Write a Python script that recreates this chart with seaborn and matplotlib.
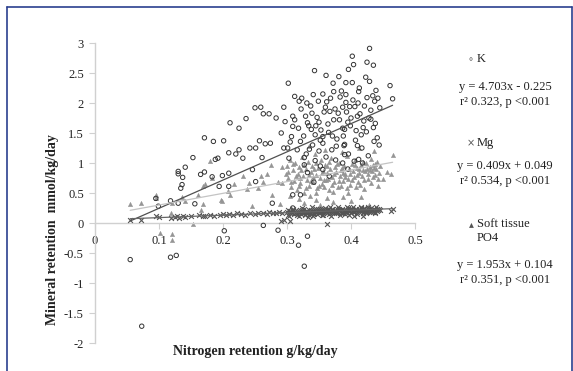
import matplotlib
matplotlib.use("Agg")
import matplotlib.pyplot as plt
import seaborn as sns
import pandas as pd
import numpy as np
from matplotlib.lines import Line2D

sns.set_theme(style="white")
plt.rcParams['font.family'] = ['Liberation Serif', 'DejaVu Serif']

# ---------------- data ----------------
k_points = [
    (0.429, 2.91), (0.402, 2.78), (0.425, 2.68), (0.435, 2.63), (0.404, 2.64), (0.396, 2.56),
    (0.343, 2.54), (0.361, 2.46), (0.381, 2.44), (0.423, 2.43), (0.429, 2.36), (0.372, 2.33),
    (0.392, 2.34), (0.402, 2.34), (0.302, 2.33), (0.461, 2.29), (0.373, 2.19), (0.412, 2.19),
    (0.439, 2.21), (0.341, 2.14), (0.356, 2.15), (0.392, 2.14), (0.312, 2.11), (0.323, 2.08),
    (0.425, 2.09), (0.442, 2.08), (0.465, 2.07), (0.319, 2.03), (0.331, 2.00), (0.349, 2.03),
    (0.392, 2.01), (0.411, 2.00), (0.437, 2.03), (0.250, 1.92), (0.259, 1.93), (0.295, 1.93),
    (0.360, 1.93), (0.387, 1.93), (0.398, 1.94), (0.406, 1.94), (0.272, 1.82), (0.263, 1.82),
    (0.283, 1.75), (0.236, 1.74), (0.309, 1.78), (0.329, 1.78), (0.367, 1.86), (0.380, 1.83),
    (0.400, 1.75), (0.428, 1.75), (0.431, 1.73), (0.297, 1.69), (0.332, 1.67), (0.350, 1.68),
    (0.373, 1.72), (0.225, 1.58), (0.211, 1.67), (0.309, 1.61), (0.318, 1.58), (0.338, 1.56),
    (0.387, 1.58), (0.390, 1.56), (0.408, 1.54), (0.419, 1.59), (0.435, 1.59), (0.171, 1.42),
    (0.185, 1.36), (0.201, 1.37), (0.291, 1.50), (0.307, 1.44), (0.344, 1.47), (0.356, 1.44),
    (0.416, 1.47), (0.257, 1.37), (0.266, 1.32), (0.274, 1.33), (0.321, 1.36), (0.356, 1.33),
    (0.436, 1.36), (0.390, 1.31), (0.410, 1.29), (0.242, 1.25), (0.251, 1.25), (0.225, 1.22),
    (0.295, 1.25), (0.301, 1.25), (0.335, 1.23), (0.389, 1.29), (0.153, 1.09), (0.192, 1.08),
    (0.209, 1.17), (0.220, 1.15), (0.231, 1.08), (0.261, 1.09), (0.303, 1.08), (0.327, 1.09),
    (0.344, 1.04), (0.390, 1.14), (0.412, 1.06), (0.188, 1.06), (0.141, 0.93), (0.130, 0.86),
    (0.130, 0.82), (0.137, 0.76), (0.165, 0.81), (0.171, 0.85), (0.183, 0.77), (0.199, 0.79),
    (0.209, 0.83), (0.246, 0.89), (0.251, 0.69), (0.327, 0.97), (0.356, 0.89), (0.387, 1.00),
    (0.405, 1.03), (0.136, 0.64), (0.134, 0.58), (0.194, 0.61), (0.209, 0.61), (0.118, 0.37),
    (0.130, 0.33), (0.099, 0.28), (0.095, 0.41), (0.156, 0.32), (0.309, 0.47), (0.321, 0.47),
    (0.277, 0.33), (0.309, 0.25), (0.055, -0.61), (0.073, -1.72), (0.118, -0.57), (0.127, -0.54),
    (0.202, -0.13), (0.263, -0.04), (0.286, -0.12), (0.318, -0.37), (0.332, -0.22), (0.327, -0.72),
    (0.345, 1.62), (0.352, 1.38), (0.365, 1.51), (0.378, 1.40), (0.395, 1.68), (0.414, 1.82),
    (0.420, 1.70), (0.445, 1.92), (0.339, 1.83), (0.362, 2.02), (0.383, 2.10), (0.370, 1.22),
    (0.305, 1.35), (0.312, 1.72), (0.316, 1.22), (0.322, 1.90), (0.326, 1.45), (0.330, 1.15),
    (0.334, 1.62), (0.337, 1.95), (0.340, 1.30), (0.347, 1.76), (0.350, 1.20), (0.353, 1.55),
    (0.358, 1.85), (0.361, 1.10), (0.364, 1.65), (0.368, 2.08), (0.371, 1.45), (0.375, 1.90),
    (0.377, 1.28), (0.382, 1.72), (0.385, 2.20), (0.388, 1.45), (0.393, 1.85), (0.396, 1.15),
    (0.399, 1.62), (0.403, 2.05), (0.407, 1.38), (0.410, 1.78), (0.413, 2.25), (0.417, 1.25),
    (0.421, 1.95), (0.424, 1.52), (0.427, 1.12), (0.431, 1.88), (0.434, 2.12), (0.438, 1.66),
    (0.441, 1.42), (0.444, 1.30), (0.376, 1.05), (0.352, 0.95), (0.332, 0.84), (0.395, 0.90),
    (0.418, 1.00), (0.366, 0.78), (0.342, 0.68),
]

mg_points = [
    (0.055, 0.05), (0.072, 0.05), (0.095, 0.11), (0.100, 0.10), (0.118, 0.09), (0.125, 0.10),
    (0.128, 0.12), (0.132, 0.09), (0.138, 0.11), (0.140, 0.10), (0.150, 0.12), (0.162, 0.13),
    (0.168, 0.11), (0.172, 0.12), (0.180, 0.13), (0.186, 0.12), (0.195, 0.14), (0.200, 0.15),
    (0.205, 0.13), (0.210, 0.15), (0.215, 0.14), (0.222, 0.16), (0.228, 0.15), (0.235, 0.14),
    (0.242, 0.16), (0.250, 0.15), (0.255, 0.17), (0.262, 0.16), (0.268, 0.15), (0.272, 0.18),
    (0.278, 0.17), (0.283, 0.16), (0.288, 0.19), (0.292, 0.17), (0.296, 0.05), (0.305, 0.03),
    (0.300, 0.18), (0.302, 0.14), (0.305, 0.20), (0.308, 0.16), (0.310, 0.22), (0.312, 0.17),
    (0.315, 0.13), (0.317, 0.19), (0.320, 0.21), (0.322, 0.15), (0.325, 0.18), (0.327, 0.23),
    (0.330, 0.16), (0.332, 0.20), (0.334, 0.13), (0.336, 0.19), (0.338, 0.22), (0.340, 0.17),
    (0.342, 0.15), (0.344, 0.21), (0.346, 0.18), (0.348, 0.24), (0.350, 0.16), (0.352, 0.20),
    (0.354, 0.14), (0.356, 0.22), (0.358, 0.18), (0.360, 0.25), (0.362, 0.17), (0.364, 0.21),
    (0.366, 0.15), (0.368, 0.19), (0.370, 0.23), (0.372, 0.18), (0.374, 0.20), (0.376, 0.16),
    (0.378, 0.24), (0.380, 0.19), (0.382, 0.21), (0.384, 0.17), (0.386, 0.23), (0.388, 0.20),
    (0.390, 0.15), (0.392, 0.22), (0.394, 0.18), (0.396, 0.25), (0.398, 0.20), (0.400, 0.17),
    (0.402, 0.23), (0.404, 0.19), (0.406, 0.21), (0.408, 0.24), (0.410, 0.18), (0.412, 0.22),
    (0.414, 0.20), (0.416, 0.25), (0.418, 0.19), (0.420, 0.23), (0.422, 0.21), (0.424, 0.18),
    (0.426, 0.24), (0.428, 0.22), (0.430, 0.20), (0.432, 0.25), (0.434, 0.21), (0.436, 0.23),
    (0.438, 0.19), (0.440, 0.24), (0.442, 0.22), (0.445, 0.21), (0.303, 0.12), (0.318, 0.11),
    (0.328, 0.14), (0.341, 0.12), (0.357, 0.13), (0.369, 0.12), (0.383, 0.14), (0.397, 0.13),
    (0.409, 0.15), (0.423, 0.16), (0.437, 0.17), (0.309, 0.24), (0.323, 0.25), (0.339, 0.26),
    (0.351, 0.23), (0.367, 0.27), (0.379, 0.26), (0.393, 0.27), (0.403, 0.26), (0.415, 0.27),
    (0.427, 0.26), (0.439, 0.26), (0.333, 0.10), (0.363, -0.02), (0.405, 0.11), (0.418, 0.12),
    (0.463, 0.20), (0.465, 0.23), (0.290, 0.04),
    (0.301, 0.21), (0.304, 0.17), (0.307, 0.19), (0.311, 0.15), (0.314, 0.21), (0.316, 0.17),
    (0.319, 0.16), (0.321, 0.19), (0.324, 0.22), (0.326, 0.16), (0.329, 0.20), (0.331, 0.18),
    (0.335, 0.21), (0.337, 0.16), (0.339, 0.20), (0.343, 0.18), (0.345, 0.23), (0.347, 0.15),
    (0.349, 0.20), (0.353, 0.18), (0.355, 0.23), (0.357, 0.17), (0.359, 0.21), (0.361, 0.19),
    (0.365, 0.23), (0.367, 0.17), (0.371, 0.21), (0.373, 0.16), (0.375, 0.22), (0.377, 0.19),
    (0.381, 0.23), (0.385, 0.20), (0.387, 0.17), (0.389, 0.22), (0.391, 0.19), (0.395, 0.21),
    (0.399, 0.23), (0.401, 0.20), (0.405, 0.18), (0.407, 0.22), (0.411, 0.20), (0.413, 0.24),
    (0.417, 0.21), (0.419, 0.17), (0.421, 0.25), (0.425, 0.20), (0.429, 0.23), (0.431, 0.19),
    (0.433, 0.22), (0.435, 0.18), (0.441, 0.20), (0.443, 0.23),
]

po4_points = [
    (0.055, 0.31), (0.072, 0.34), (0.095, 0.46), (0.095, 0.42), (0.118, 0.17), (0.136, 0.44),
    (0.141, 0.36), (0.121, 0.33), (0.101, -0.17), (0.120, -0.19), (0.120, -0.28), (0.153, -0.02),
    (0.166, 0.22), (0.169, 0.32), (0.161, 0.47), (0.168, 0.62), (0.172, 0.65), (0.179, 1.04),
    (0.183, 0.75), (0.197, 0.39), (0.199, 0.36), (0.208, 0.53), (0.217, 0.65), (0.211, 0.47),
    (0.231, 0.78), (0.237, 0.56), (0.240, 0.67), (0.246, 0.29), (0.254, 0.59), (0.260, 0.78),
    (0.262, 0.69), (0.269, 0.81), (0.275, 0.97), (0.277, 0.47), (0.286, 0.69), (0.289, 0.32),
    (0.292, 0.94), (0.298, 0.82), (0.292, 0.67),
    (0.300, 0.95), (0.302, 0.75), (0.305, 1.05), (0.307, 0.60), (0.309, 0.88), (0.311, 0.70),
    (0.313, 1.00), (0.315, 0.55), (0.317, 0.82), (0.319, 0.93), (0.321, 0.66), (0.323, 1.10),
    (0.325, 0.78), (0.327, 0.50), (0.329, 0.90), (0.331, 0.72), (0.333, 1.02), (0.335, 0.62),
    (0.337, 0.85), (0.339, 0.95), (0.341, 0.68), (0.343, 1.15), (0.345, 0.80), (0.347, 0.58),
    (0.349, 0.92), (0.351, 0.75), (0.353, 1.05), (0.355, 0.65), (0.357, 0.87), (0.359, 0.97),
    (0.361, 0.71), (0.363, 0.83), (0.365, 0.55), (0.367, 0.90), (0.369, 1.08), (0.371, 0.77),
    (0.373, 0.68), (0.375, 0.94), (0.377, 0.85), (0.379, 0.60), (0.381, 1.00), (0.383, 0.79),
    (0.385, 0.88), (0.387, 0.70), (0.389, 0.95), (0.391, 0.82), (0.393, 1.12), (0.395, 0.74),
    (0.397, 0.90), (0.399, 0.63), (0.401, 0.98), (0.403, 0.86), (0.405, 0.77), (0.407, 1.05),
    (0.409, 0.92), (0.411, 0.68), (0.413, 0.84), (0.415, 0.96), (0.417, 0.78), (0.419, 0.88),
    (0.421, 0.72), (0.423, 1.00), (0.425, 0.90), (0.427, 0.82), (0.429, 0.94), (0.431, 1.06),
    (0.433, 0.86), (0.435, 0.76), (0.437, 0.98), (0.439, 0.90), (0.441, 1.02), (0.443, 0.84),
    (0.445, 0.95), (0.304, 0.45), (0.318, 0.40), (0.326, 0.34), (0.336, 0.45), (0.346, 0.38),
    (0.352, 0.30), (0.362, 0.42), (0.372, 0.35), (0.388, 0.44), (0.400, 0.36), (0.416, 0.44),
    (0.428, 0.30), (0.442, 0.62), (0.450, 0.74), (0.456, 0.85), (0.462, 0.81), (0.465, 1.14),
    (0.436, 1.20), (0.412, 1.25), (0.386, 1.18), (0.360, 1.22), (0.334, 1.28),
    (0.301, 0.85), (0.306, 0.68), (0.310, 0.98), (0.314, 0.78), (0.318, 0.62), (0.322, 0.88),
    (0.326, 0.97), (0.330, 0.58), (0.334, 0.80), (0.338, 0.70), (0.342, 0.90), (0.346, 1.00),
    (0.350, 0.62), (0.354, 0.84), (0.358, 0.72), (0.362, 0.95), (0.366, 1.02), (0.370, 0.64),
    (0.374, 0.82), (0.378, 0.98), (0.382, 0.70), (0.386, 0.92), (0.390, 0.76), (0.394, 0.58),
    (0.398, 0.82), (0.402, 0.72), (0.406, 0.96), (0.410, 0.80), (0.414, 0.64), (0.418, 1.02),
    (0.422, 0.86), (0.426, 0.74), (0.430, 0.88), (0.434, 0.96), (0.438, 0.80), (0.442, 0.74),
    (0.346, 0.50), (0.372, 0.52), (0.396, 0.50), (0.420, 0.56), (0.358, 0.60), (0.384, 0.62),
    (0.408, 0.60), (0.432, 0.66), (0.320, 0.75), (0.340, 0.77), (0.364, 0.74), (0.388, 0.84),
    (0.412, 0.90), (0.436, 0.92),
]

# trend lines as printed on the chart: slope, intercept
k_fit = (4.703, -0.225)
mg_fit = (0.409, 0.049)
po4_fit = (1.953, 0.104)

x_ticks = [0, 0.1, 0.2, 0.3, 0.4, 0.5]
x_tick_labels = ["0", "0.1", "0.2", "0.3", "0.4", "0.5"]
y_ticks = [-2, -1.5, -1, -0.5, 0, 0.5, 1, 1.5, 2, 2.5, 3]
y_tick_labels = ["-2", "-1.5", "-1", "-0.5", "0", "0.5", "1", "1.5", "2", "2.5", "3"]

legend_blocks = [
    ("K", "y = 4.703x - 0.225", "r\u00b2 0.323, p <0.001"),
    ("Mg", "y = 0.409x + 0.049", "r\u00b2 0.534, p <0.001"),
    ("Soft tissue\nPO4", "y = 1.953x + 0.104", "r\u00b2 0.351, p <0.001"),
]

# ---------------- figure ----------------
W, H = 573, 371
fig = plt.figure(figsize=(W / 100, H / 100), dpi=100)
fig.patch.set_facecolor("white")
ax = fig.add_axes([95 / W, 1 - 343 / H, 320 / W, 300 / H])
ax.set_facecolor("white")

k_df = pd.DataFrame(k_points, columns=["x", "y"])
mg_df = pd.DataFrame(mg_points, columns=["x", "y"])
po4_df = pd.DataFrame(po4_points, columns=["x", "y"])

sns.scatterplot(data=k_df, x="x", y="y", ax=ax, marker="o", s=10,
                facecolor="none", edgecolor="#333333", linewidth=0.7, zorder=3)
sns.scatterplot(data=po4_df, x="x", y="y", ax=ax, marker="^", s=10,
                color="#959595", edgecolor="#959595", linewidth=0.3, zorder=2)
sns.scatterplot(data=mg_df, x="x", y="y", ax=ax, marker="x", s=12,
                color="#555555", linewidth=0.8, zorder=4)

def fit_line(df, fit, color, lw):
    xs = np.array([df["x"].min(), df["x"].max()])
    ax.plot(xs, fit[0] * xs + fit[1], color=color, lw=lw, zorder=5)

fit_line(k_df, k_fit, "#505050", 0.9)
fit_line(po4_df, po4_fit, "#c4c4c4", 0.9)
fit_line(mg_df, mg_fit, "#666666", 0.9)

ax.set_xlim(0, 0.5)
ax.set_ylim(-2, 3)
ax.set_xlabel("")
ax.set_ylabel("")
for s in ["top", "right"]:
    ax.spines[s].set_visible(False)
ax.spines["bottom"].set_position(("data", 0))
for s in ["left", "bottom"]:
    ax.spines[s].set_color("#d0d0d0")
    ax.spines[s].set_linewidth(1.0)
ax.set_xticks(x_ticks)
ax.set_xticklabels(x_tick_labels)
ax.set_yticks(y_ticks)
ax.set_yticklabels(y_tick_labels)
ax.tick_params(axis="both", which="both", direction="out", length=4, width=0.8,
               color="#d0d0d0", labelsize=9, labelcolor="#222222")
ax.tick_params(axis="x", pad=5, bottom=True)
ax.tick_params(axis="y", pad=4, left=True)

# axis titles
fig.text(255 / W, 1 - 352 / H, "Nitrogen retention g/kg/day", ha="center", va="center",
         fontsize=10, fontweight="bold", color="#222222")
fig.text(53 / W, 1 - 230 / H, "Mineral retention  mmol/kg/day", ha="center", va="center",
         rotation=90, fontsize=10, fontweight="bold", color="#222222")

# legend / equation blocks
marker_glyphs = ["\u2218", "\u00d7", "\u25b4"]
name_y = [59, 143, 224]
eq_y = [87, 166, 265]
for (name, eq, r2), glyph, ny, ey in zip(legend_blocks, marker_glyphs, name_y, eq_y):
    fig.text(471 / W, 1 - ny / H, glyph, ha="center", va="center", fontsize=7,
             color="#555555", family=["DejaVu Sans"])
    lines = name.split("\n")
    for i, ln in enumerate(lines):
        fig.text(477 / W, 1 - (ny + 14 * i) / H, ln, ha="left", va="center",
                 fontsize=9, color="#222222")
    fig.text(505 / W, 1 - ey / H, eq, ha="center", va="center", fontsize=9, color="#222222")
    fig.text(505 / W, 1 - (ey + 15) / H, r2, ha="center", va="center", fontsize=9,
             color="#222222")

# blue frame around the picture
frame = "#2b3f8f"
fig.add_artist(Line2D([7 / W, 7 / W], [0, 1 - 7 / H], color=frame, lw=1.2))
fig.add_artist(Line2D([7 / W, 1 - 1.5 / W], [1 - 7 / H, 1 - 7 / H], color=frame, lw=1.2))
fig.add_artist(Line2D([1 - 1.5 / W, 1 - 1.5 / W], [0, 1 - 7 / H], color=frame, lw=1.2))

fig.savefig("out.png", dpi=100, facecolor="white")
